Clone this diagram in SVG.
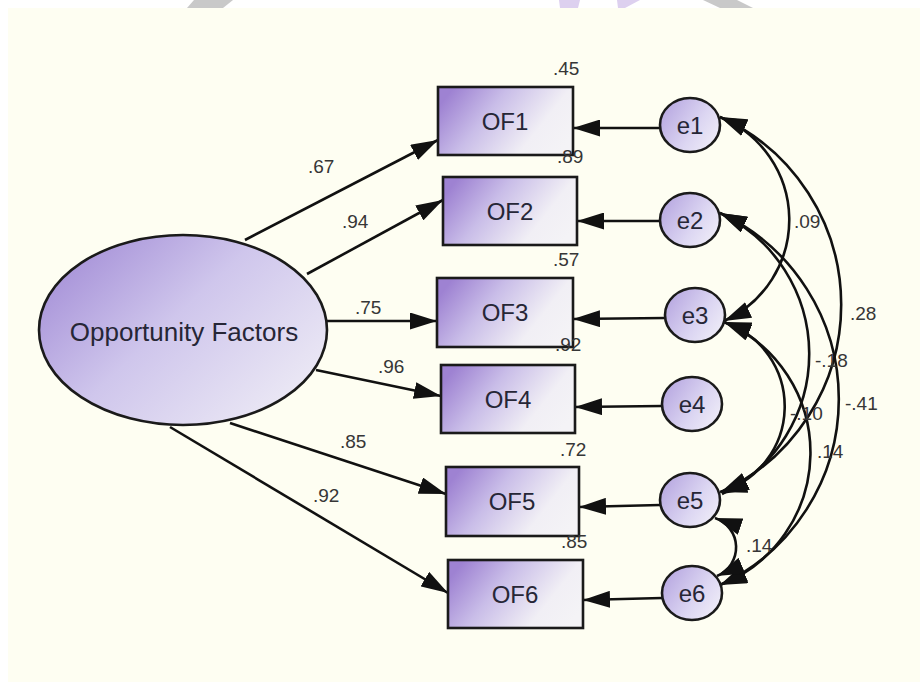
<svg xmlns="http://www.w3.org/2000/svg" width="920" height="682" viewBox="0 0 920 682">
<defs>
<linearGradient id="gBox" x1="0" y1="0.3" x2="1" y2="0.7">
<stop offset="0" stop-color="#9e82d2"/>
<stop offset="0.35" stop-color="#c9bde8"/>
<stop offset="0.75" stop-color="#f1eff5"/>
<stop offset="1" stop-color="#f4f3f6"/>
</linearGradient>
<linearGradient id="gEll" x1="0" y1="0.15" x2="1" y2="0.85">
<stop offset="0" stop-color="#a28cd6"/>
<stop offset="0.45" stop-color="#cfc6ec"/>
<stop offset="1" stop-color="#efedf6"/>
</linearGradient>
<linearGradient id="gErr" x1="0" y1="0.2" x2="1" y2="0.8">
<stop offset="0" stop-color="#b6a6e0"/>
<stop offset="0.6" stop-color="#dcd6f2"/>
<stop offset="1" stop-color="#f0eef8"/>
</linearGradient>
<marker id="ah" viewBox="0 0 27 17" refX="27" refY="8.5" markerWidth="27" markerHeight="17" markerUnits="userSpaceOnUse" orient="auto-start-reverse">
<path d="M0,0 L27,8.5 L0,17 z" fill="#111"/>
</marker>
<style>
.ln{fill:none;stroke:#111;stroke-width:2.6}
.box{fill:url(#gBox);stroke:#1a1a1a;stroke-width:2.6}
.err{fill:url(#gErr);stroke:#1a1a1a;stroke-width:2.6}
.lbl{font-family:"Liberation Sans",Arial,sans-serif;font-size:24px;fill:#262636;text-anchor:middle}
.num{font-family:"Liberation Sans",Arial,sans-serif;font-size:19px;fill:#363636}
</style>
</defs>
<rect x="0" y="0" width="920" height="682" fill="#ffffff"/>
<rect x="8" y="8" width="912" height="674" fill="#fefef2"/>
<g id="watermark">
<polygon points="194,0 233,0 223,8 187,8" fill="#c9c9c9"/>
<polygon points="559,0 580,0 578,8 560,8" fill="#ddd0ef"/>
<polygon points="617,0 640,0 625,8 618,8" fill="#ddd0ef"/>
<polygon points="703,0 737,0 753,8 720,8" fill="#c9c9c9"/>
</g>
<g id="connectors">
<line class="ln" x1="245" y1="240" x2="438" y2="140" marker-end="url(#ah)"/>
<line class="ln" x1="307" y1="274" x2="443" y2="200" marker-end="url(#ah)"/>
<line class="ln" x1="326" y1="321" x2="437" y2="321" marker-end="url(#ah)"/>
<line class="ln" x1="316" y1="370" x2="441" y2="396" marker-end="url(#ah)"/>
<line class="ln" x1="230" y1="423" x2="446" y2="494" marker-end="url(#ah)"/>
<line class="ln" x1="170" y1="427" x2="448" y2="593" marker-end="url(#ah)"/>
<line class="ln" x1="660" y1="128" x2="573" y2="128" marker-end="url(#ah)"/>
<line class="ln" x1="660" y1="221" x2="577" y2="221" marker-end="url(#ah)"/>
<line class="ln" x1="665" y1="318" x2="573" y2="319" marker-end="url(#ah)"/>
<line class="ln" x1="662" y1="406" x2="575" y2="407" marker-end="url(#ah)"/>
<line class="ln" x1="660" y1="505" x2="579" y2="507" marker-end="url(#ah)"/>
<line class="ln" x1="662" y1="598" x2="583" y2="600" marker-end="url(#ah)"/>
<path class="ln" d="M720,117 A111,111 0 0 1 724,321" marker-start="url(#ah)" marker-end="url(#ah)"/>
<path class="ln" d="M720,117 A206,206 0 0 1 721,492" marker-start="url(#ah)" marker-end="url(#ah)"/>
<path class="ln" d="M720,213 A156,156 0 0 1 722,494" marker-start="url(#ah)" marker-end="url(#ah)"/>
<path class="ln" d="M720,213 A205,205 0 0 1 720,585" marker-start="url(#ah)" marker-end="url(#ah)"/>
<path class="ln" d="M724,322 A89,89 0 0 1 720,492" marker-start="url(#ah)" marker-end="url(#ah)"/>
<path class="ln" d="M724,322 A142,142 0 0 1 720,585" marker-start="url(#ah)" marker-end="url(#ah)"/>
<path class="ln" d="M715,518 A31,31 0 0 1 717,576" marker-start="url(#ah)" marker-end="url(#ah)"/>
</g>
<g id="factor">
<ellipse cx="183" cy="330" rx="144" ry="95" fill="url(#gEll)" stroke="#1a1a1a" stroke-width="2.6"/>
<text class="lbl" x="184" y="341" style="font-size:26px">Opportunity Factors</text>
</g>
<g id="OF1"><rect class="box" x="438" y="87" width="135" height="68"/><text class="lbl" x="505" y="130">OF1</text></g>
<g id="OF2"><rect class="box" x="443" y="177" width="134" height="68"/><text class="lbl" x="510" y="220">OF2</text></g>
<g id="OF3"><rect class="box" x="437" y="278" width="136" height="69"/><text class="lbl" x="505" y="321">OF3</text></g>
<g id="OF4"><rect class="box" x="441" y="365" width="134" height="68"/><text class="lbl" x="508" y="408">OF4</text></g>
<g id="OF5"><rect class="box" x="446" y="467" width="133" height="69"/><text class="lbl" x="512" y="510">OF5</text></g>
<g id="OF6"><rect class="box" x="448" y="560" width="135" height="68"/><text class="lbl" x="515" y="603">OF6</text></g>
<g id="e1"><ellipse class="err" cx="690" cy="125" rx="30" ry="27"/><text class="lbl" x="690" y="134">e1</text></g>
<g id="e2"><ellipse class="err" cx="690" cy="220" rx="30" ry="27"/><text class="lbl" x="690" y="229">e2</text></g>
<g id="e3"><ellipse class="err" cx="695" cy="315" rx="30" ry="27"/><text class="lbl" x="695" y="324">e3</text></g>
<g id="e4"><ellipse class="err" cx="692" cy="404" rx="30" ry="27"/><text class="lbl" x="692" y="413">e4</text></g>
<g id="e5"><ellipse class="err" cx="690" cy="500" rx="30" ry="27"/><text class="lbl" x="690" y="509">e5</text></g>
<g id="e6"><ellipse class="err" cx="692" cy="593" rx="30" ry="27"/><text class="lbl" x="692" y="602">e6</text></g>
<g id="labels">
<text class="num" x="553" y="75">.45</text>
<text class="num" x="557" y="163">.89</text>
<text class="num" x="553" y="266">.57</text>
<text class="num" x="555" y="351">.92</text>
<text class="num" x="560" y="456">.72</text>
<text class="num" x="561" y="548">.85</text>
<text class="num" x="308" y="173">.67</text>
<text class="num" x="342" y="228">.94</text>
<text class="num" x="355" y="314">.75</text>
<text class="num" x="378" y="373">.96</text>
<text class="num" x="340" y="448">.85</text>
<text class="num" x="313" y="502">.92</text>
<text class="num" x="794" y="228">.09</text>
<text class="num" x="850" y="320">.28</text>
<text class="num" x="815" y="367">-.18</text>
<text class="num" x="845" y="410">-.41</text>
<text class="num" x="790" y="420">-.10</text>
<text class="num" x="817" y="458">.14</text>
<text class="num" x="746" y="552">.14</text>
</g>
</svg>
